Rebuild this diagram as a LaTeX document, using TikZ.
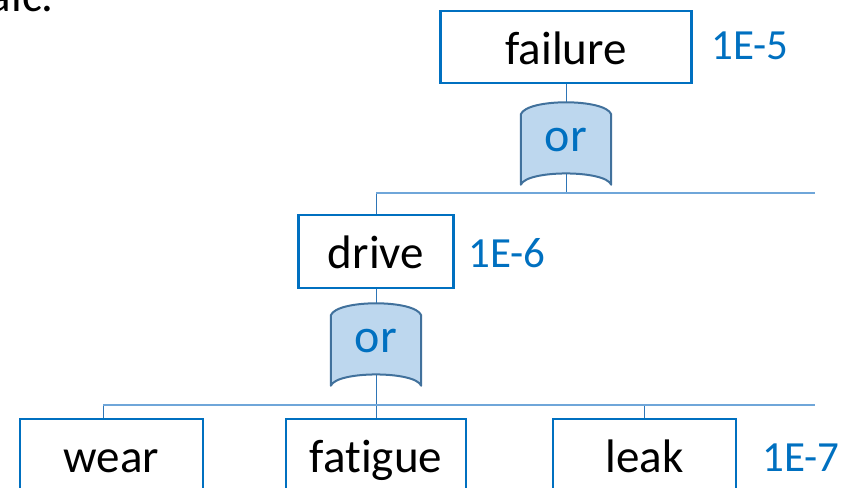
\documentclass[tikz,border=0pt]{standalone}
\usepackage{fontspec}
\setmainfont{Carlito}[Ligatures=NoCommon]

\definecolor{boxblue}{HTML}{0070C0}
\definecolor{gatefill}{HTML}{BDD7EE}
\definecolor{gateline}{HTML}{41719C}
\definecolor{buscol}{HTML}{6FA6D9}
\definecolor{linkcol}{HTML}{2E75B6}

\pgfdeclarelayer{background}
\pgfsetlayers{background,main}

\tikzset{
  event/.style={draw=boxblue, line width=2.5pt, minimum height=72pt, inner sep=0pt,
    text height=34pt, text depth=0pt, font=\fontsize{47}{56}\selectfont},
  gate/.style={minimum width=90pt, minimum height=70pt, inner sep=0pt, text=boxblue,
    text height=24pt, text depth=20pt, font=\fontsize{48}{56}\selectfont},
  prob/.style={anchor=west, inner sep=0pt, text=boxblue, font=\fontsize{43}{50}\selectfont},
  link/.style={draw=linkcol, line width=1pt},
  bus/.style={draw=buscol, line width=1.8pt},
  gateshape/.style={draw=gateline, fill=gatefill, line width=2pt, line join=round}
}

\begin{document}
\begin{tikzpicture}[x=1pt, y=-1pt]
  \useasboundingbox (0,0) rectangle (848,487);
  \clip (0,0) rectangle (848,487);

  \node [anchor=base east, inner sep=0pt, font=\fontsize{47}{56}\selectfont] (aic) at (54,12) {aic.};

  % top event
  \node [event, minimum width=251pt] (failure) at (566,47) {failure};
  \node [prob] (pfailure) at (711,46) {1E-5};
  \node [gate] (g1) at (566,149.5) {or};

  % middle event
  \node [event, minimum width=155pt, minimum height=73pt] (drive) at (376,251.5) {drive};
  \node [prob] (pdrive) at (468,253) {1E-6};
  \node [gate] (g2) at (376,350.5) {or};

  % basic events
  \node [event, minimum width=183pt, minimum height=73pt] (wear) at (111.5,455.5) {wear};
  \node [event, minimum width=180pt, minimum height=73pt] (fatigue) at (376,455.5) {fatigue};
  \node [event, minimum width=183pt, minimum height=73pt] (leak) at (644.5,455.5) {leak};
  \node [prob] (pleak) at (762,457.5) {1E-7};

  \coordinate (bus1) at (815,193);
  \coordinate (bus2w) at (103,405);
  \coordinate (bus2) at (815,405);

  \begin{pgfonlayer}{background}
    \draw [link] (failure.south) -- (g1.center);
    \draw [link] (g1.center) -- (g1.center |- bus1);
    \draw [link] (drive.north) -- (drive.north |- bus1);
    \draw [link] (drive.south) -- (g2.center);
    \draw [link] (g2.center) -- (fatigue.north);
    \draw [link] (bus2w) -- (bus2w |- wear.north);
    \draw [link] (leak.north) -- (leak.north |- bus2);
    \draw [bus] (drive.north |- bus1) -- (bus1);
    \draw [bus] (bus2w) -- (bus2);
    % or gates
    \foreach \g in {g1,g2}
      \draw [gateshape] (\g.south west) -- (\g.north west)
        .. controls +(6,-16) and +(-6,-16) .. (\g.north east) -- (\g.south east)
        .. controls +(-6,-15) and +(6,-15) .. (\g.south west) -- cycle;
  \end{pgfonlayer}
\end{tikzpicture}
\end{document}
